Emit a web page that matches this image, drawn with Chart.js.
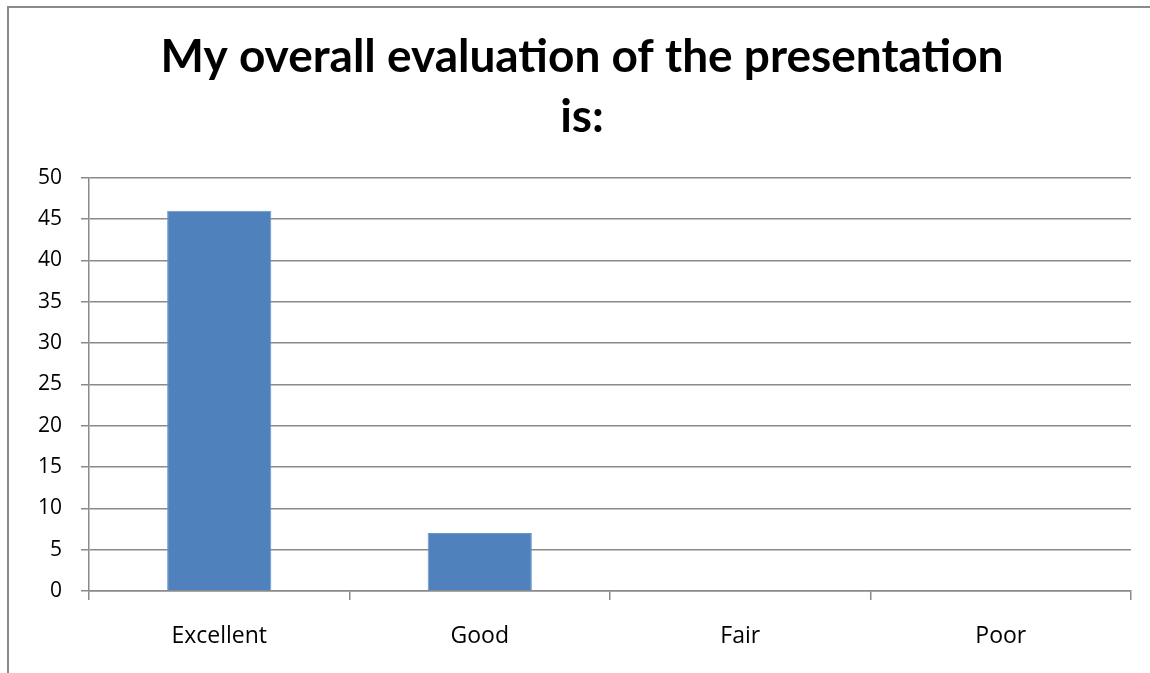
<!DOCTYPE html>
<html><head><meta charset="utf-8">
<script src="https://cdn.jsdelivr.net/npm/chart.js@4.4.1/dist/chart.umd.min.js"></script>
<style>
html,body{margin:0;padding:0;background:#fff;overflow:hidden}
#wrap{position:absolute;left:0;top:0;width:1150px;height:673px}
#frame{position:absolute;left:7px;top:6px;width:1150px;height:680px;border-left:2px solid #8a8a8a;border-top:2px solid #8a8a8a;pointer-events:none}
</style></head>
<body>
<div id="wrap"><canvas id="c" width="1150" height="673"></canvas></div>
<div id="frame"></div>
<script>
const categories = ["Excellent", "Good", "Fair", "Poor"];
const responses = [46, 7, 0, 0];
const titleLines = ["My overall evaluation of the presentation", "is:"];
const yTicks = {min: 0, max: 50, step: 5};

new Chart(document.getElementById('c'), {
  type: 'bar',
  data: {
    labels: categories,
    datasets: [{
      data: responses,
      backgroundColor: '#4F81BD',
      borderColor: '#6b96cc',
      borderWidth: 1,
      categoryPercentage: 0.4,
      barPercentage: 1.0
    }]
  },
  options: {
    responsive: false,
    animation: false,
    layout: {padding: {left: 33, right: 19, top: 0, bottom: 0}},
    plugins: {
      legend: {display: false},
      tooltip: {enabled: false},
      title: {
        display: true,
        text: titleLines,
        color: '#000',
        font: {family: 'Lato', size: 46, weight: 'bold', lineHeight: 1.3},
        padding: {top: 27, bottom: 31}
      }
    },
    scales: {
      x: {
        grid: {display: true, drawOnChartArea: false, drawTicks: true, tickLength: 9, color: '#8a8a8a', lineWidth: 1.5, offset: true},
        border: {display: true, color: '#8a8a8a', width: 1.5},
        ticks: {color: '#000', font: {family: 'Open Sans', size: 23}, padding: 23},
        afterFit(s) { s.height = 82; }
      },
      y: {
        min: yTicks.min, max: yTicks.max,
        grid: {color: '#8a8a8a', lineWidth: 1.5, tickLength: 8, drawTicks: true},
        border: {display: true, color: '#8a8a8a', width: 1.5},
        ticks: {stepSize: yTicks.step, color: '#000', font: {family: 'Open Sans', size: 21}, padding: 19},
        afterFit(s) { s.width = 56; }
      }
    }
  }
});
</script>
</body></html>
